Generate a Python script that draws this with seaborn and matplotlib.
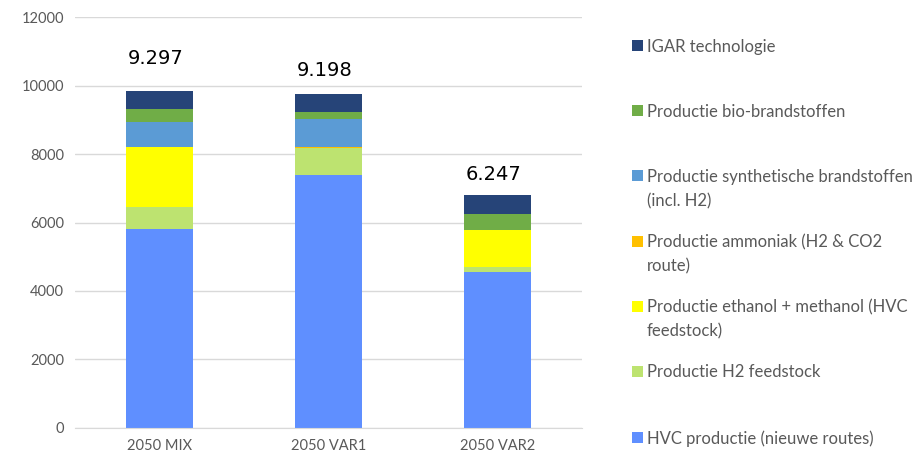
import numpy as np
import pandas as pd
import matplotlib.pyplot as plt
import seaborn as sns
from matplotlib.patches import Rectangle

# scenario categories
scenarios = ["2050 MIX", "2050 VAR1", "2050 VAR2"]

# stacked layers, bottom to top
hvc = [5810, 7390, 4545]
h2_feedstock = [645, 775, 155]
ethanol_methanol = [1740, 0, 1080]
ammonia = [0, 30, 0]
synthetic = [750, 815, 0]
bio = [370, 215, 475]
igar = [535, 525, 545]

value_labels = ["9.297", "9.198", "6.247"]
label_y = [10800, 10450, 7390]

layers = [
    ("HVC productie (nieuwe routes)", hvc, "#5F8FFF"),
    ("Productie H2 feedstock", h2_feedstock, "#BDE370"),
    ("Productie ethanol + methanol (HVC\nfeedstock)", ethanol_methanol, "#FFFF00"),
    ("Productie ammoniak (H2 & CO2\nroute)", ammonia, "#FFC000"),
    ("Productie synthetische brandstoffen\n(incl. H2)", synthetic, "#5B9BD5"),
    ("Productie bio-brandstoffen", bio, "#70AD47"),
    ("IGAR technologie", igar, "#264478"),
]

sns.set_style("white")
plt.rcParams["font.family"] = ["Lato", "DejaVu Sans"]

fig = plt.figure(figsize=(9.23, 4.61), dpi=100)
ax = fig.add_axes([0.0813, 0.0716, 0.549, 0.8915])

# cumulative totals, drawn from the top layer down so lower layers overlay
cum = np.cumsum(np.array([l[1] for l in layers]), axis=0)
for i in range(len(layers) - 1, -1, -1):
    df = pd.DataFrame({"scenario": scenarios, "value": cum[i]})
    sns.barplot(data=df, x="scenario", y="value", color=layers[i][2],
                saturation=1, width=0.4, linewidth=0, ax=ax)

for i, txt in enumerate(value_labels):
    ax.text(i - 0.02, label_y[i], txt, ha="center", va="center", fontsize=14,
            family="DejaVu Sans", color="black")

ax.set_ylim(0, 12000)
ax.set_xlim(-0.5, 2.5)
ax.set_yticks(range(0, 12001, 2000))
ax.yaxis.grid(True, color="#D9D9D9", linewidth=1)
ax.set_axisbelow(True)
for s in ["top", "right", "left"]:
    ax.spines[s].set_visible(False)
ax.spines["bottom"].set_color("#D9D9D9")
ax.tick_params(axis="both", length=0, labelsize=10.5, colors="#595959", pad=8)
ax.set_xlabel("")
ax.set_ylabel("")

# legend, top entry first
legend_y = [46, 111, 176, 241, 306, 371, 437]
for k, (name, _, col) in enumerate(reversed(layers)):
    yc = 1 - legend_y[k] / 461
    fig.add_artist(Rectangle((632 / 923, yc - 5.5 / 461), 11 / 923, 11 / 461,
                             transform=fig.transFigure, color=col, lw=0))
    fig.text(647 / 923, yc + 7 / 461, name, va="top", ha="left",
             fontsize=12, color="#595959", linespacing=1.6)

fig.savefig("out.png", dpi=100)
